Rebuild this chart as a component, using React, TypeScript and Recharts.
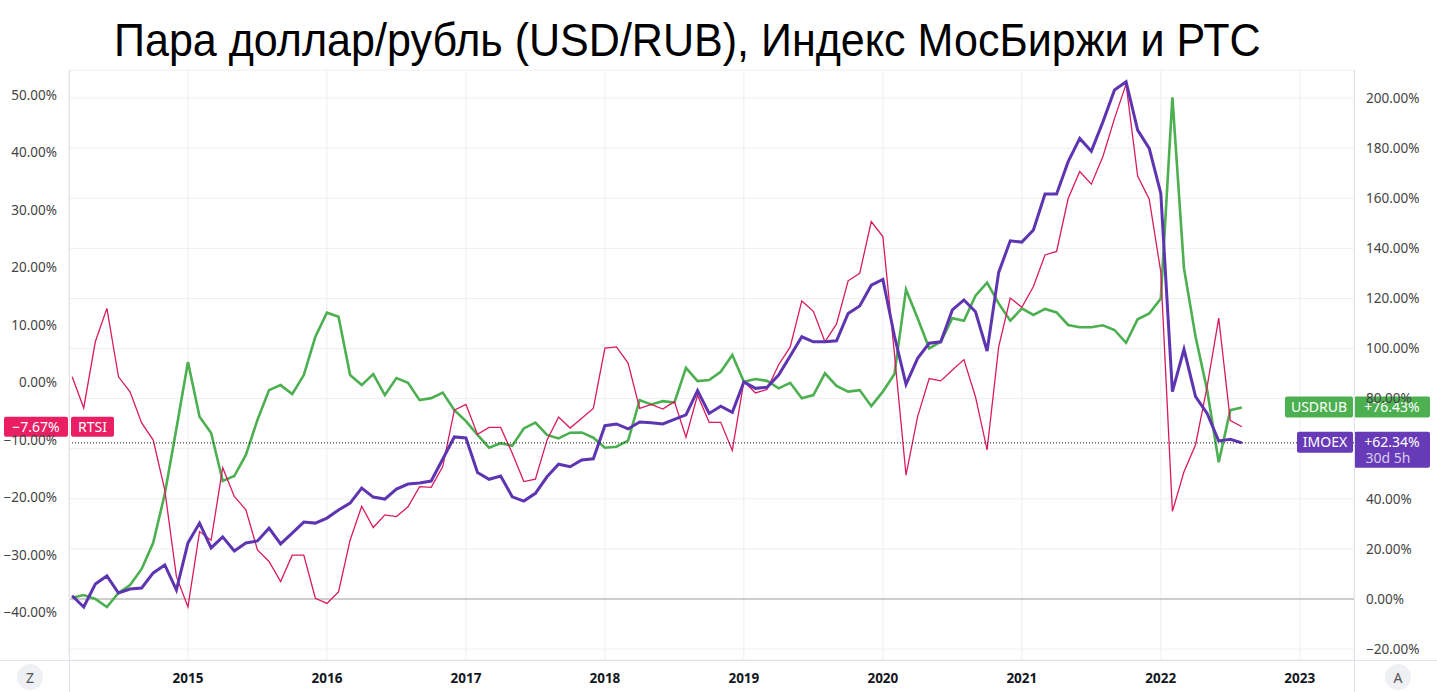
import React from "react";
import { LineChart, Line, XAxis, YAxis, CartesianGrid, ReferenceLine } from "recharts";

// monthly closes, % change from March 2014
const imoex = [
  1.3, -3.2, 6.0, 9.2, 2.4, 4.0, 4.4, 10.4, 13.6, 3.6,
  22.4, 30.3, 20.4, 24.8, 19.2, 22.4, 23.2, 28.3, 22.0, 26.3,
  30.7, 30.3, 32.3, 35.5, 38.3, 44.3, 40.7, 39.9, 43.9, 45.9,
  46.3, 47.1, 55.9, 64.7, 64.3, 50.5, 47.8, 49.1, 40.8, 39.1,
  42.2, 48.8, 53.8, 52.8, 55.5, 56.0, 69.2, 69.9, 67.9, 70.7,
  70.4, 69.9, 71.7, 73.5, 83.2, 74.1, 77.0, 74.5, 86.7, 84.1,
  84.5, 89.4, 97.0, 104.7, 102.7, 102.7, 103.1, 114.0, 117.0, 125.3,
  127.6, 105.0, 85.7, 96.1, 102.1, 102.7, 115.4, 119.4, 114.7, 99.0,
  130.4, 143.0, 142.5, 147.3, 161.7, 161.7, 174.6, 183.9, 178.8, 190.5,
  203.2, 206.5, 187.2, 179.9, 161.9, 82.8, 99.7, 80.8, 74.1, 63.1,
  63.8, 62.34,
];

const usdrub = [
  0.5, 1.6, 0.0, -3.2, 2.4, 5.6, 12.0, 22.4, 42.0, 68.0,
  94.6, 72.8, 66.3, 47.1, 49.1, 57.5, 71.5, 83.4, 85.4, 81.8,
  89.4, 104.7, 114.3, 112.7, 89.4, 85.4, 89.8, 81.4, 88.2, 86.3,
  79.4, 80.2, 82.4, 75.4, 71.0, 65.5, 60.4, 62.2, 61.2, 68.1,
  70.4, 65.5, 64.1, 66.4, 66.5, 64.4, 60.4, 60.8, 63.2, 79.4,
  77.7, 79.0, 78.4, 92.3, 87.0, 87.4, 90.7, 97.4, 86.7, 87.8,
  87.1, 84.1, 86.3, 80.1, 81.4, 90.1, 85.1, 82.8, 83.4, 77.0,
  82.8, 89.8, 123.6, 112.1, 100.1, 102.7, 112.1, 111.1, 121.1, 126.3,
  118.0, 111.1, 116.0, 113.4, 115.8, 114.4, 109.4, 108.5, 108.5, 109.3,
  107.4, 102.3, 111.7, 114.0, 120.0, 200.3, 132.0, 104.7, 83.4, 54.6,
  75.4, 76.43,
];

const rtsi = [
  1.0, -4.4, 7.1, 12.9, 1.0, -1.6, -7.0, -10.0, -18.7, -33.7,
  -39.0, -25.9, -27.4, -14.8, -19.8, -22.1, -29.1, -31.1, -34.6, -30.0,
  -30.0, -37.5, -38.4, -36.4, -27.4, -21.5, -25.2, -23.0, -23.3, -21.6,
  -18.1, -18.2, -14.6, -4.8, -3.8, -9.0, -7.8, -7.8, -12.3, -17.2,
  -16.8, -10.0, -6.0, -7.9, -6.2, -4.5, 6.0, 6.2, 3.4, -4.5,
  -3.8, -4.6, -3.3, -9.5, -2.2, -6.9, -6.9, -11.8, 0.2, -1.8,
  -1.2, 3.1, 6.2, 14.2, 12.4, 7.1, 10.2, 17.7, 19.0, 28.0,
  25.4, 5.0, -16.1, -5.9, 0.7, 0.3, 2.2, 4.0, -2.5, -11.7,
  6.2, 14.7, 13.1, 16.7, 22.2, 22.8, 32.0, 36.7, 34.5, 39.3,
  45.9, 51.9, 35.9, 31.9, 19.2, -22.4, -15.5, -10.8, -0.7, 11.2,
  -6.6, -7.67,
];

// first bar is March 2014, one point per month
const startYear = 2014;
const startMonth = 3;
const months = imoex.map((_, i) => startYear + (startMonth - 1 + i) / 12);

const yearTicks = [2015, 2016, 2017, 2018, 2019, 2020, 2021, 2022, 2023];
const leftTicks = [-40, -30, -20, -10, 0, 10, 20, 30, 40, 50];
const rightTicks = [-20, 0, 20, 40, 60, 80, 100, 120, 140, 160, 180, 200];
// the IMOEX price tag covers this label entirely
const hiddenRightLabels = [60];

const data = months.map((t, i) => ({ t, imoex: imoex[i], usdrub: usdrub[i], rtsi: rtsi[i] }));

const font = "'Noto Sans', 'Open Sans', sans-serif";
const GREEN = "#4caf50";
const PURPLE = "#673ab7";
const PINK = "#e91e63";

const pct = (v: number) => (v < 0 ? "\u2212" : "") + Math.abs(v).toFixed(2) + "%";
const signed = (v: number) => (v < 0 ? "\u2212" : "+") + Math.abs(v).toFixed(2) + "%";

const RightTick = (props: any) => {
  const { x, y, payload } = props;
  if (hiddenRightLabels.includes(payload.value)) return <g />;
  return (
    <text x={x} y={y} dy="0.355em" textAnchor="start" fill="#444" fontSize={13.5} fontFamily={font}>
      {pct(payload.value)}
    </text>
  );
};

const LeftTag = (props: any) => {
  const { viewBox, name, value, color } = props;
  const x = viewBox.x;
  const y = viewBox.y;
  return (
    <g fontFamily={font} fontSize={14}>
      <rect x={x - 65} y={y - 10} width={64} height={20} rx={2} fill={color} />
      <text x={x - 33} y={y} dy="0.36em" textAnchor="middle" fill="#fff">{signed(value)}</text>
      <rect x={x + 2} y={y - 10} width={43} height={20} rx={2} fill={color} />
      <text x={x + 23.5} y={y} dy="0.36em" textAnchor="middle" fill="#fff">{name}</text>
    </g>
  );
};

const RightTag = (props: any) => {
  const { viewBox, name, value, color, nameWidth, extra } = props;
  const right = viewBox.x + viewBox.width;
  const y = viewBox.y;
  const h = extra ? 36 : 21;
  return (
    <g fontFamily={font} fontSize={14}>
      <rect x={right - 1 - nameWidth} y={y - 11} width={nameWidth} height={21} rx={2} fill={color} />
      <text x={right - 1 - nameWidth / 2} y={y} dy="0.33em" textAnchor="middle" fill="#fff">{name}</text>
      <rect x={right} y={y - 11} width={76} height={h} rx={2} fill={color} />
      <text x={right + 38} y={y} dy="0.33em" textAnchor="middle" fill="#fff">{signed(value)}</text>
      {extra ? (
        <text x={right + 34} y={y + 16} dy="0.33em" textAnchor="middle" fill="#d8cdf0">{extra}</text>
      ) : null}
    </g>
  );
};

const Circle = ({ left, letter }: { left: number; letter: string }) => (
  <div
    style={{
      position: "absolute", left: left - 13, top: 664, width: 26, height: 26, borderRadius: 13,
      background: "#eef0f4", color: "#555", fontFamily: font, fontSize: 14,
      display: "flex", alignItems: "center", justifyContent: "center",
    }}
  >
    {letter}
  </div>
);

export default function App() {
  const last = data.length - 1;
  return (
    <div style={{ position: "absolute", left: 0, top: 0, width: 1437, height: 692, background: "#fff", overflow: "hidden" }}>
      <LineChart width={1437} height={692} data={data} margin={{ top: 70, right: 0, bottom: 0, left: 0 }}>
        <CartesianGrid yAxisId="right" stroke="#eeeeee" />
        <XAxis
          dataKey="t"
          type="number"
          domain={[2014.144, 2023.39]}
          allowDataOverflow
          ticks={yearTicks}
          tickFormatter={(v) => String(v)}
          height={32}
          tickSize={0}
          tickMargin={13}
          axisLine={false}
          tickLine={false}
          tick={{ fill: "#131722", fontSize: 13.5, fontWeight: 700, fontFamily: font }}
        />
        <YAxis
          yAxisId="left"
          orientation="left"
          width={69}
          domain={[-48.23, 54.35]}
          allowDataOverflow
          ticks={leftTicks}
          tickFormatter={pct}
          tickSize={0}
          tickMargin={12}
          axisLine={false}
          tickLine={false}
          tick={{ fill: "#444", fontSize: 13.5, fontFamily: font }}
        />
        <YAxis
          yAxisId="right"
          orientation="right"
          width={83}
          domain={[-24.35, 211.2]}
          allowDataOverflow
          ticks={rightTicks}
          tickSize={0}
          tickMargin={12}
          axisLine={false}
          tickLine={false}
          tick={<RightTick />}
        />
        <ReferenceLine yAxisId="right" y={0} stroke="#a5a5a5" strokeWidth={1} />
        <Line yAxisId="right" type="linear" dataKey="usdrub" stroke={GREEN} strokeWidth={2.6} dot={false} isAnimationActive={false} />
        <Line yAxisId="left" type="linear" dataKey="rtsi" stroke="#d81b60" strokeWidth={1.3} dot={false} isAnimationActive={false} />
        <Line yAxisId="right" type="linear" dataKey="imoex" stroke="#5e35b1" strokeWidth={3} dot={false} isAnimationActive={false} />
        <ReferenceLine
          yAxisId="right"
          y={imoex[last]}
          stroke="#131722"
          strokeDasharray="1 2"
          label={<RightTag name="IMOEX" value={imoex[last]} color={PURPLE} nameWidth={56} extra="30d 5h" />}
        />
        <ReferenceLine
          yAxisId="right"
          y={usdrub[last]}
          stroke="none"
          label={<RightTag name="USDRUB" value={usdrub[last]} color={GREEN} nameWidth={68} />}
        />
        <ReferenceLine
          yAxisId="left"
          y={rtsi[last]}
          stroke="none"
          label={<LeftTag name="RTSI" value={rtsi[last]} color={PINK} />}
        />
      </LineChart>
      <div style={{ position: "absolute", left: 0, top: 660, width: 1437, height: 1, background: "#e0e3eb" }} />
      <div style={{ position: "absolute", left: 69, top: 70, width: 1, height: 622, background: "#e0e3eb" }} />
      <div style={{ position: "absolute", left: 1354, top: 70, width: 1, height: 622, background: "#e0e3eb" }} />
      <Circle left={30} letter="Z" />
      <Circle left={1398} letter="A" />
      <div
        style={{
          position: "absolute", left: 114, top: 16, fontFamily: "'Liberation Sans', Arial, sans-serif",
          fontSize: 47, lineHeight: "47px", color: "#000", whiteSpace: "nowrap",
          transform: "scaleX(0.916)", transformOrigin: "0 0",
        }}
      >
        Пара доллар/рубль (USD/RUB), Индекс МосБиржи и РТС
      </div>
    </div>
  );
}
